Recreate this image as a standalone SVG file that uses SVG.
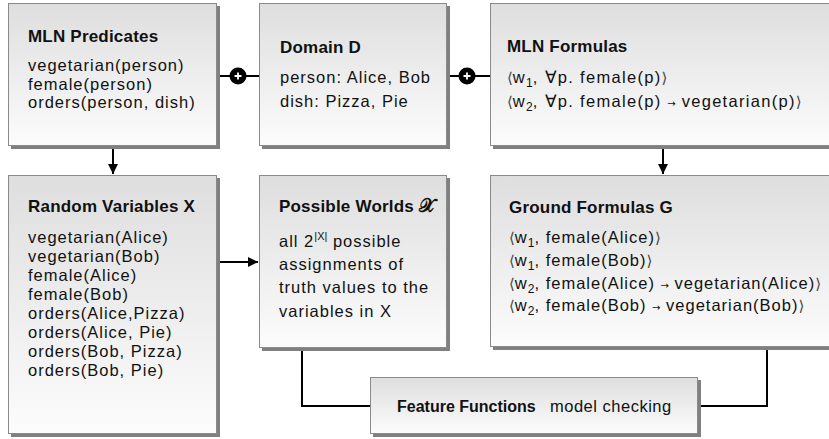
<svg xmlns="http://www.w3.org/2000/svg" width="829" height="439" viewBox="0 0 829 439">
<style>
  .box { fill: url(#g); stroke: #8a8a8a; stroke-width: 1; }
  .sh { fill: #808080; }
  text { font-family: "Liberation Sans", Arial, sans-serif; font-size: 16.5px; letter-spacing: 1px; fill: #111; }
  .t { font-weight: bold; font-size: 17px; letter-spacing: 0.2px; }
  .wide { letter-spacing: 1.3px; }
  .br { font-family: "DejaVu Sans", sans-serif; font-size: 15px; fill: #444; letter-spacing: 0; }
  .ar { font-family: "DejaVu Sans", sans-serif; font-size: 10px; letter-spacing: 0; }
  .sub { font-size: 12px; letter-spacing: 0; }
  .sup { font-size: 11px; letter-spacing: 0; }
  .chi { font-family: "DejaVu Sans", sans-serif; font-size: 19px; }
  .ff { font-weight: bold; font-size: 16px; letter-spacing: 0; }
  .mc { letter-spacing: 0.5px; }
  .wire { fill: none; stroke: #000; stroke-width: 2; }
</style>
<defs>
  <linearGradient id="g" x1="0" y1="0" x2="0" y2="1">
    <stop offset="0" stop-color="#dedede"/>
    <stop offset="1" stop-color="#fcfcfc"/>
  </linearGradient>
  <marker id="ah" viewBox="0 0 10 10" refX="10" refY="5" markerWidth="10" markerHeight="10" markerUnits="userSpaceOnUse" orient="auto">
    <path d="M0,0 L10,5 L0,10 Z" fill="#000"/>
  </marker>
</defs>

<g id="connectors">
  <line class="wire" x1="217" y1="76" x2="259" y2="76"/>
  <line class="wire" x1="447" y1="76" x2="490" y2="76"/>
  <line class="wire" x1="113" y1="147" x2="113" y2="174" marker-end="url(#ah)"/>
  <line class="wire" x1="663" y1="147" x2="663" y2="174" marker-end="url(#ah)"/>
  <line class="wire" x1="217" y1="262" x2="258" y2="262" marker-end="url(#ah)"/>
  <polyline class="wire" points="302,349 302,406 370,406"/>
  <polyline class="wire" points="767,348 767,406 698,406"/>
  <g>
    <circle cx="238" cy="76" r="8.5" fill="#000"/>
    <path d="M234.5,76 H241.5 M238,72.5 V79.5" stroke="#fff" stroke-width="1.8"/>
  </g>
  <g>
    <circle cx="467" cy="76" r="8.5" fill="#000"/>
    <path d="M463.5,76 H470.5 M467,72.5 V79.5" stroke="#fff" stroke-width="1.8"/>
  </g>
</g>

<g id="mln-predicates">
  <rect class="sh" x="11" y="6" width="209" height="143"/>
  <rect class="box" x="8.5" y="3.5" width="208" height="142"/>
  <text class="t" x="28" y="42">MLN Predicates</text>
  <text x="28" y="71">vegetarian(person)</text>
  <text x="28" y="89.6">female(person)</text>
  <text x="28" y="108.2">orders(person, dish)</text>
</g>

<g id="domain-d">
  <rect class="sh" x="262" y="6" width="188" height="143"/>
  <rect class="box" x="259.5" y="3.5" width="187" height="142"/>
  <text class="t" x="280" y="53">Domain D</text>
  <text x="280" y="83">person: Alice, Bob</text>
  <text x="280" y="107">dish: Pizza, Pie</text>
</g>

<g id="mln-formulas">
  <rect class="sh" x="493" y="6" width="350" height="143"/>
  <rect class="box" x="490.5" y="3.5" width="350" height="142"/>
  <text class="t" x="507" y="52">MLN Formulas</text>
  <text class="wide" x="507" y="83"><tspan class="br">⟨</tspan>w<tspan class="sub" dy="4">1</tspan><tspan dy="-4">, ∀p. female(p)</tspan><tspan class="br">⟩</tspan></text>
  <text class="wide" x="507" y="107"><tspan class="br">⟨</tspan>w<tspan class="sub" dy="4">2</tspan><tspan dy="-4">, ∀p. female(p) </tspan><tspan class="ar">→</tspan> vegetarian(p)<tspan class="br">⟩</tspan></text>
</g>

<g id="random-variables">
  <rect class="sh" x="11" y="178" width="209" height="259"/>
  <rect class="box" x="8.5" y="175.5" width="208" height="258"/>
  <text class="t" x="28" y="212">Random Variables X</text>
  <text x="28" y="243">vegetarian(Alice)</text>
  <text x="28" y="262">vegetarian(Bob)</text>
  <text x="28" y="281">female(Alice)</text>
  <text x="28" y="300">female(Bob)</text>
  <text x="28" y="319">orders(Alice,Pizza)</text>
  <text x="28" y="338">orders(Alice, Pie)</text>
  <text x="28" y="357">orders(Bob, Pizza)</text>
  <text x="28" y="376">orders(Bob, Pie)</text>
</g>

<g id="possible-worlds">
  <rect class="sh" x="262" y="178" width="188" height="173"/>
  <rect class="box" x="259.5" y="175.5" width="187" height="172"/>
  <text class="t" x="279" y="212">Possible Worlds <tspan class="chi">𝒳</tspan></text>
  <text x="279" y="247">all 2<tspan class="sup" dy="-7">|X|</tspan><tspan dy="7"> possible</tspan></text>
  <text x="279" y="270">assignments of</text>
  <text x="279" y="293">truth values to the</text>
  <text x="279" y="317">variables in X</text>
</g>

<g id="ground-formulas">
  <rect class="sh" x="493" y="178" width="350" height="172"/>
  <rect class="box" x="490.5" y="175.5" width="350" height="171"/>
  <text class="t" x="509" y="213">Ground Formulas G</text>
  <text x="509" y="243"><tspan class="br">⟨</tspan>w<tspan class="sub" dy="4">1</tspan><tspan dy="-4">, female(Alice)</tspan><tspan class="br">⟩</tspan></text>
  <text x="509" y="266"><tspan class="br">⟨</tspan>w<tspan class="sub" dy="4">1</tspan><tspan dy="-4">, female(Bob)</tspan><tspan class="br">⟩</tspan></text>
  <text x="509" y="288.5"><tspan class="br">⟨</tspan>w<tspan class="sub" dy="4">2</tspan><tspan dy="-4">, female(Alice) </tspan><tspan class="ar">→</tspan> vegetarian(Alice)<tspan class="br">⟩</tspan></text>
  <text x="509" y="311"><tspan class="br">⟨</tspan>w<tspan class="sub" dy="4">2</tspan><tspan dy="-4">, female(Bob) </tspan><tspan class="ar">→</tspan> vegetarian(Bob)<tspan class="br">⟩</tspan></text>
</g>

<g id="feature-functions">
  <rect class="sh" x="373" y="380" width="328" height="57"/>
  <rect class="box" x="370.5" y="377.5" width="327" height="56"/>
  <text class="mc" x="397" y="412"><tspan class="ff">Feature Functions</tspan><tspan x="550">model checking</tspan></text>
</g>
</svg>
